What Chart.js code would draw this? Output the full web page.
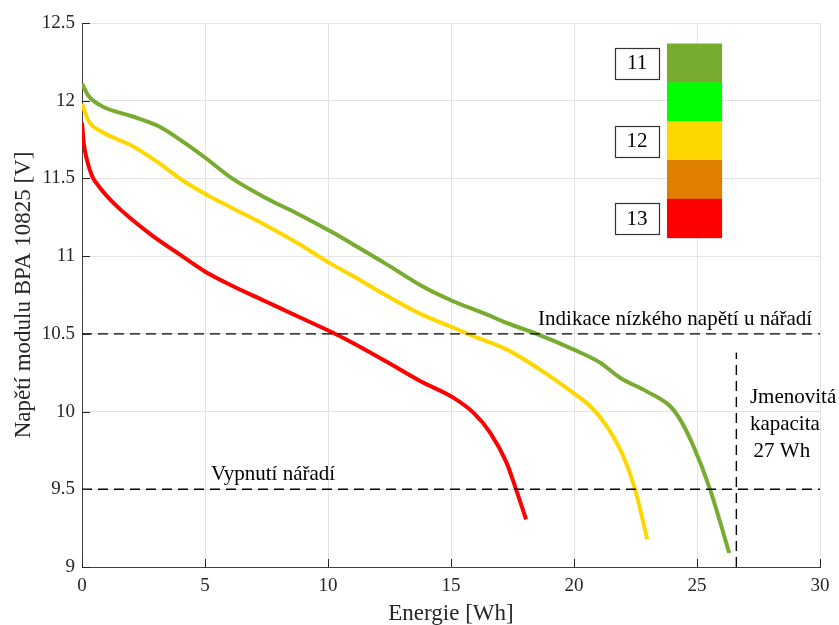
<!DOCTYPE html>
<html>
<head>
<meta charset="utf-8">
<script src="https://cdn.jsdelivr.net/npm/chart.js@4.4.0/dist/chart.umd.min.js"></script>
<style>
  html, body { margin: 0; padding: 0; background: #fff; }
  #wrap { width: 839px; height: 625px; }
</style>
</head>
<body>
<div id="wrap"><canvas id="c" width="839" height="625"></canvas></div>
<script>
// discharge curves, energy [Wh] vs voltage [V]
const greenE = [0, 0.27, 0.81, 2.03, 3.12, 4.07, 5.01, 6.1, 7.45, 8.8, 10.16, 11.03, 12.39, 13.74, 15.09, 16.45, 17.26, 18.48, 19.97, 21.06, 21.87, 22.95, 23.9, 24.31, 24.85, 25.53, 26.31];
const greenV = [12.11, 12.03, 11.965, 11.9, 11.836, 11.74, 11.633, 11.5, 11.376, 11.27, 11.155, 11.075, 10.947, 10.815, 10.71, 10.625, 10.57, 10.5, 10.4, 10.315, 10.218, 10.13, 10.036, 9.95, 9.78, 9.5, 9.09];
const yellowE = [0, 0.27, 0.81, 2.03, 3.12, 4.07, 5.01, 6.1, 7.45, 8.8, 10.16, 11.03, 12.39, 13.74, 15.09, 15.91, 17.26, 18.62, 19.97, 20.65, 21.33, 22.0, 22.48, 22.98];
const yellowV = [11.98, 11.87, 11.8, 11.71, 11.6, 11.49, 11.4, 11.31, 11.2, 11.08, 10.947, 10.87, 10.745, 10.63, 10.54, 10.486, 10.4, 10.27, 10.12, 10.036, 9.907, 9.714, 9.5, 9.178];
const redE = [0, 0.07, 0.2, 0.41, 0.68, 1.36, 2.71, 4.07, 5.01, 6.1, 7.45, 8.8, 10.16, 11.03, 12.39, 13.74, 15.09, 15.91, 16.59, 17.26, 17.6, 18.05];
const redV = [11.86, 11.73, 11.62, 11.515, 11.45, 11.33, 11.15, 11.0, 10.9, 10.81, 10.71, 10.61, 10.51, 10.44, 10.32, 10.197, 10.09, 9.993, 9.865, 9.67, 9.52, 9.307];

const xTicks = [0, 5, 10, 15, 20, 25, 30];
const yTicks = [9, 9.5, 10, 10.5, 11, 11.5, 12, 12.5];

const lowWarnV = 10.5;
const cutoffV = 9.5;
const ratedE = 26.6;

const barColors = ['#77AC30', '#00FF00', '#FFD700', '#E07E00', '#FF0000'];
const barLabels = ['11', '', '12', '', '13'];

const FONT = '"Liberation Serif", "Times New Roman", serif';
const TXT = '#262626';

const toPts = (xs, ys) => xs.map((x, i) => ({ x: x, y: ys[i] }));

const curve = (data, color) => ({
  data: data,
  borderColor: color,
  borderWidth: 4,
  pointRadius: 0,
  showLine: true,
  fill: false,
  cubicInterpolationMode: 'monotone',
  borderCapStyle: 'butt'
});

const dashed = (data) => ({
  data: data,
  borderColor: '#000',
  borderWidth: 1.4,
  borderDash: [10, 6],
  pointRadius: 0,
  showLine: true,
  fill: false,
  tension: 0
});

const extras = {
  id: 'extras',
  afterDraw(chart) {
    const ctx = chart.ctx;
    const xs = chart.scales.x, ys = chart.scales.y;
    const area = chart.chartArea;
    ctx.save();

    // inward ticks
    ctx.strokeStyle = TXT;
    ctx.lineWidth = 1;
    xTicks.forEach(t => {
      const px = Math.round(xs.getPixelForValue(t)) + 0.5;
      ctx.beginPath();
      ctx.moveTo(px, area.bottom);
      ctx.lineTo(px, area.bottom - 8);
      ctx.stroke();
    });
    yTicks.forEach(t => {
      const py = Math.round(ys.getPixelForValue(t)) + 0.5;
      ctx.beginPath();
      ctx.moveTo(area.left, py);
      ctx.lineTo(area.left + 8, py);
      ctx.stroke();
    });

    // annotations
    ctx.fillStyle = '#000';
    ctx.font = '21px ' + FONT;
    ctx.textBaseline = 'alphabetic';
    ctx.textAlign = 'left';
    ctx.fillText('Indikace nízkého napětí u nářadí', xs.getPixelForValue(18.54), ys.getPixelForValue(10.559));
    ctx.fillText('Vypnutí nářadí', xs.getPixelForValue(5.24), ys.getPixelForValue(9.56));
    ctx.fillText('Jmenovitá', xs.getPixelForValue(27.15), ys.getPixelForValue(10.056));
    ctx.fillText('kapacita', xs.getPixelForValue(27.15), ys.getPixelForValue(9.882));
    ctx.fillText('27 Wh', xs.getPixelForValue(27.3), ys.getPixelForValue(9.709));

    // colour bar with labels
    const bx0 = xs.getPixelForValue(23.78), bx1 = xs.getPixelForValue(26.02);
    const by0 = ys.getPixelForValue(12.368), by1 = ys.getPixelForValue(11.119);
    const h = (by1 - by0) / barColors.length;
    barColors.forEach((c, i) => {
      ctx.fillStyle = c;
      ctx.fillRect(bx0, by0 + i * h, bx1 - bx0, h + 0.5);
    });
    ctx.font = '21px ' + FONT;
    barLabels.forEach((lab, i) => {
      if (!lab) return;
      const cy = by0 + i * h + h / 2;
      const lx0 = xs.getPixelForValue(21.68), lx1 = xs.getPixelForValue(23.45);
      ctx.fillStyle = '#fff';
      ctx.fillRect(lx0, cy - 15, lx1 - lx0, 31);
      ctx.strokeStyle = '#333';
      ctx.lineWidth = 1.2;
      ctx.strokeRect(Math.round(lx0) + 0.5, Math.round(cy - 15) + 0.5, Math.round(lx1 - lx0), 31);
      ctx.fillStyle = '#000';
      ctx.textAlign = 'center';
      ctx.textBaseline = 'middle';
      ctx.fillText(lab, (lx0 + lx1) / 2, cy + 1);
    });
    ctx.restore();
  }
};

new Chart(document.getElementById('c'), {
  type: 'scatter',
  data: {
    datasets: [
      dashed([{ x: 0, y: lowWarnV }, { x: 30, y: lowWarnV }]),
      dashed([{ x: 0, y: cutoffV }, { x: 30, y: cutoffV }]),
      dashed([{ x: ratedE, y: 9 }, { x: ratedE, y: 10.38 }]),
      curve(toPts(redE, redV), '#FF0000'),
      curve(toPts(yellowE, yellowV), '#FFD700'),
      curve(toPts(greenE, greenV), '#77AC30')
    ]
  },
  options: {
    responsive: false,
    animation: false,
    layout: { padding: { top: 23, right: 19, left: 0, bottom: 0 } },
    plugins: { legend: { display: false }, tooltip: { enabled: false } },
    scales: {
      x: {
        type: 'linear', min: 0, max: 30,
        afterBuildTicks: s => { s.ticks = xTicks.map(v => ({ value: v })); },
        afterFit: s => { s.height = 58; },
        grid: { color: '#e3e3e3', drawTicks: false },
        border: { color: '#404040', width: 1 },
        ticks: { color: TXT, font: { family: FONT, size: 19 }, padding: 8 },
        title: { display: true, text: 'Energie [Wh]', color: TXT, font: { family: FONT, size: 23 }, padding: { top: 0, bottom: -3 } }
      },
      y: {
        type: 'linear', min: 9, max: 12.5,
        afterBuildTicks: s => { s.ticks = yTicks.map(v => ({ value: v })); },
        afterFit: s => { s.width = 82; },
        grid: { color: '#e3e3e3', drawTicks: false },
        border: { color: '#404040', width: 1 },
        ticks: { color: TXT, font: { family: FONT, size: 19 }, padding: 7, callback: v => String(v) },
        title: { display: true, text: 'Napětí modulu BPA 10825 [V]', color: TXT, font: { family: FONT, size: 23 }, padding: { top: 10, bottom: 0 } }
      }
    }
  },
  plugins: [extras]
});
</script>
</body>
</html>
